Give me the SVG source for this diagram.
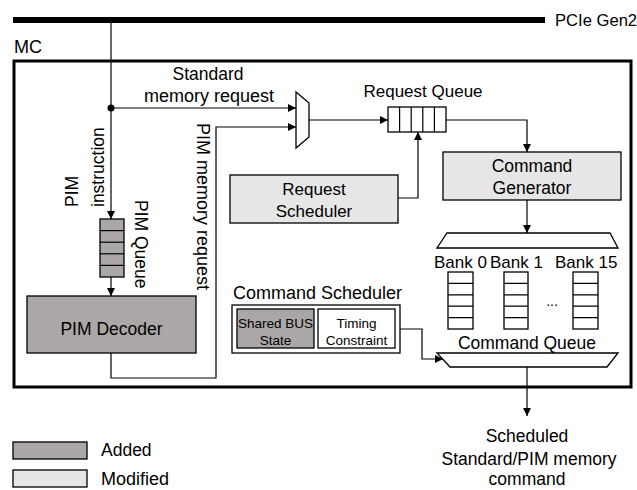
<svg xmlns="http://www.w3.org/2000/svg" width="637" height="490" viewBox="0 0 637 490">
<defs>
<style>
text{font-family:"Liberation Sans",Arial,sans-serif;font-size:17.5px;fill:#000}
.c{text-anchor:middle}
.s{font-size:13.5px}
.added{fill:#aba7a6;stroke:#000;stroke-width:1.3}
.mod{fill:#e6e6e6;stroke:#000;stroke-width:1.3}
.wh{fill:#fff;stroke:#000;stroke-width:1.3}
.ln{fill:none;stroke:#000;stroke-width:1.2}
.cell{stroke:#000;stroke-width:1.2}
</style>
<marker id="ah" viewBox="0 0 10 10" refX="10" refY="5" markerWidth="8" markerHeight="8" markerUnits="userSpaceOnUse" orient="auto">
<path d="M0,0 L10,5 L0,10 Z" fill="#000"/>
</marker>
</defs>
<rect width="637" height="490" fill="#fff"/>

<g id="bus">
<line x1="13" y1="20" x2="545" y2="20" stroke="#000" stroke-width="6"/>
<text x="555" y="26" style="font-size:16.6px">PCIe Gen2</text>
</g>

<g id="mc">
<rect x="14" y="61" width="617" height="326" fill="none" stroke="#000" stroke-width="3"/>
<text x="14" y="53" style="font-size:18px">MC</text>
</g>

<g id="connectors">
<line class="ln" x1="111" y1="23" x2="111" y2="219" marker-end="url(#ah)"/>
<circle cx="111" cy="108" r="3.5" fill="#000"/>
<line class="ln" x1="111" y1="108" x2="296" y2="108" marker-end="url(#ah)"/>
<line class="ln" x1="111" y1="277" x2="111" y2="296" marker-end="url(#ah)"/>
<polyline class="ln" points="111,353 111,378 216,378 216,127 296,127" marker-end="url(#ah)"/>
<line class="ln" x1="309" y1="120" x2="388" y2="120" marker-end="url(#ah)"/>
<polyline class="ln" points="398,198 418,198 418,132" marker-end="url(#ah)"/>
<polyline class="ln" points="446,120 527,120 527,152" marker-end="url(#ah)"/>
<line class="ln" x1="527" y1="200" x2="527" y2="233" marker-end="url(#ah)"/>
<polyline class="ln" points="400,329 422,329 422,359 443,359" marker-end="url(#ah)"/>
<line class="ln" x1="527" y1="367" x2="527" y2="416" marker-end="url(#ah)"/>
<text x="208" y="80" class="c">Standard</text>
<text x="209" y="102" class="c" style="font-size:18px">memory request</text>
<text transform="translate(78,207) rotate(-90)">PIM</text>
<text transform="translate(104,207) rotate(-90)">instruction</text>
<text transform="translate(197,123) rotate(90)" style="font-size:18px">PIM memory request</text>
</g>

<g id="pim-queue">
<rect class="added" x="100" y="219" width="24" height="58"/>
<line class="cell" x1="100" y1="230.6" x2="124" y2="230.6"/>
<line class="cell" x1="100" y1="242.2" x2="124" y2="242.2"/>
<line class="cell" x1="100" y1="253.8" x2="124" y2="253.8"/>
<line class="cell" x1="100" y1="265.4" x2="124" y2="265.4"/>
<text transform="translate(135,200) rotate(90)">PIM Queue</text>
</g>

<g id="pim-decoder">
<rect class="added" x="27" y="296" width="169" height="57"/>
<text x="111.5" y="335" class="c">PIM Decoder</text>
</g>

<g id="mux">
<polygon class="wh" points="296,92 309,103 309,137 296,148"/>
</g>

<g id="request-queue">
<rect class="wh" x="388" y="107" width="58" height="25"/>
<line class="cell" x1="399.6" y1="107" x2="399.6" y2="132"/>
<line class="cell" x1="411.2" y1="107" x2="411.2" y2="132"/>
<line class="cell" x1="422.8" y1="107" x2="422.8" y2="132"/>
<line class="cell" x1="434.4" y1="107" x2="434.4" y2="132"/>
<text x="423" y="97" class="c" style="font-size:17px">Request Queue</text>
</g>

<g id="request-scheduler">
<rect class="mod" x="230" y="175" width="168" height="48"/>
<text x="314" y="195" class="c" style="font-size:17px">Request</text>
<text x="314" y="217" class="c" style="font-size:17px">Scheduler</text>
</g>

<g id="command-generator">
<rect class="mod" x="443" y="152" width="178" height="48"/>
<text x="532" y="172" class="c">Command</text>
<text x="532" y="194" class="c">Generator</text>
</g>

<g id="bank-demux">
<polygon class="wh" points="447,233 610,233 618,248 437,248"/>
</g>

<g id="banks">
<text x="434" y="268" style="font-size:17px">Bank 0</text>
<text x="490" y="268" style="font-size:17px">Bank 1</text>
<text x="555" y="268" style="font-size:17px">Bank 15</text>
<rect class="wh" x="448" y="272" width="25" height="57"/>
<rect class="wh" x="504" y="272" width="24" height="57"/>
<rect class="wh" x="573" y="272" width="25" height="57"/>
<path class="cell" d="M448,283.4H473M448,294.8H473M448,306.2H473M448,317.6H473M504,283.4H528M504,294.8H528M504,306.2H528M504,317.6H528M573,283.4H598M573,294.8H598M573,306.2H598M573,317.6H598"/>
<text x="552" y="306" class="c" style="font-size:14px">...</text>
<text x="527" y="349" class="c">Command Queue</text>
</g>

<g id="command-queue-mux">
<polygon class="wh" points="437,353 618,353 607,367 450,367"/>
</g>

<g id="command-scheduler">
<text x="233" y="299" style="font-size:18px">Command Scheduler</text>
<rect class="wh" x="232" y="305" width="168" height="48"/>
<rect class="added" x="237" y="309" width="77" height="39"/>
<rect class="wh" x="318" y="309" width="77" height="39"/>
<text x="275.5" y="328" class="c s">Shared BUS</text>
<text x="275.5" y="345" class="c s">State</text>
<text x="356.5" y="328" class="c s">Timing</text>
<text x="356.5" y="345" class="c s">Constraint</text>
</g>

<g id="output-label">
<text x="527" y="442" class="c">Scheduled</text>
<text x="529" y="465" class="c">Standard/PIM memory</text>
<text x="527" y="485" class="c">command</text>
</g>

<g id="legend">
<rect class="added" x="13" y="442" width="74" height="17"/>
<text x="101" y="456">Added</text>
<rect class="mod" x="13" y="470" width="74" height="17"/>
<text x="101" y="485" style="font-size:18px">Modified</text>
</g>
</svg>
